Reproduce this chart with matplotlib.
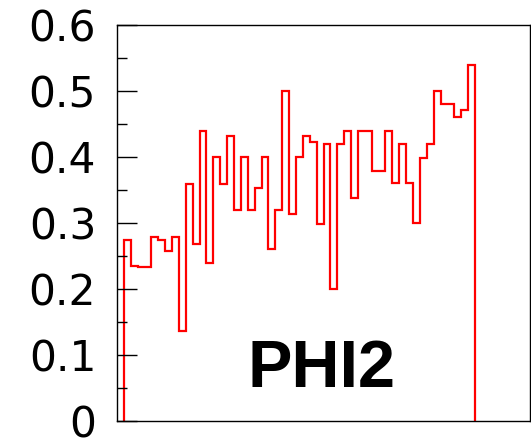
import matplotlib
matplotlib.use('Agg')
import matplotlib.pyplot as plt
import numpy as np

# содержимое бинов 1..51 гистограммы PHI2 (бин 0 и бины 52..59 пустые)
phi2_counts = [0.274, 0.235, 0.234, 0.234, 0.279, 0.274, 0.258, 0.279, 0.137, 0.359,
               0.268, 0.439, 0.239, 0.400, 0.359, 0.432, 0.319, 0.400, 0.319, 0.353,
               0.400, 0.260, 0.320, 0.500, 0.313, 0.400, 0.432, 0.423, 0.298, 0.420,
               0.200, 0.420, 0.439, 0.338, 0.439, 0.439, 0.379, 0.379, 0.439, 0.361,
               0.419, 0.360, 0.300, 0.399, 0.419, 0.500, 0.480, 0.480, 0.460, 0.471,
               0.539]
first_bin = 1
n_bins_axis = 60
y_ticks = [0, 0.1, 0.2, 0.3, 0.4, 0.5, 0.6]
y_tick_labels = ['0', '0.1', '0.2', '0.3', '0.4', '0.5', '0.6']
hist_name = 'PHI2'

fig = plt.figure(figsize=(5.31, 4.42), dpi=100)
ax = fig.add_axes([117/531, 21/442, 413/531, 396/442])

edges = np.arange(first_bin, first_bin + len(phi2_counts) + 1)
ax.stairs(phi2_counts, edges, baseline=0, color='red', linewidth=1.6)

ax.set_xlim(0, n_bins_axis)
ax.set_ylim(0, 0.6)

ax.set_yticks(y_ticks)
ax.set_yticklabels(y_tick_labels, fontfamily='DejaVu Sans', fontsize=30.5)
ax.set_yticks(np.arange(0.05, 0.6, 0.1), minor=True)
ax.tick_params(axis='y', which='major', direction='in', length=14.4, width=1, pad=15)
ax.tick_params(axis='y', which='minor', direction='in', length=7.2, width=1)
ax.set_xticks([])

for s in ax.spines.values():
    s.set_linewidth(1.0)

ax.text(0.317, 0.086, hist_name, transform=ax.transAxes, fontsize=48,
        fontweight='bold', fontfamily='Liberation Sans', ha='left', va='baseline')

plt.savefig('out.png', dpi=100)
